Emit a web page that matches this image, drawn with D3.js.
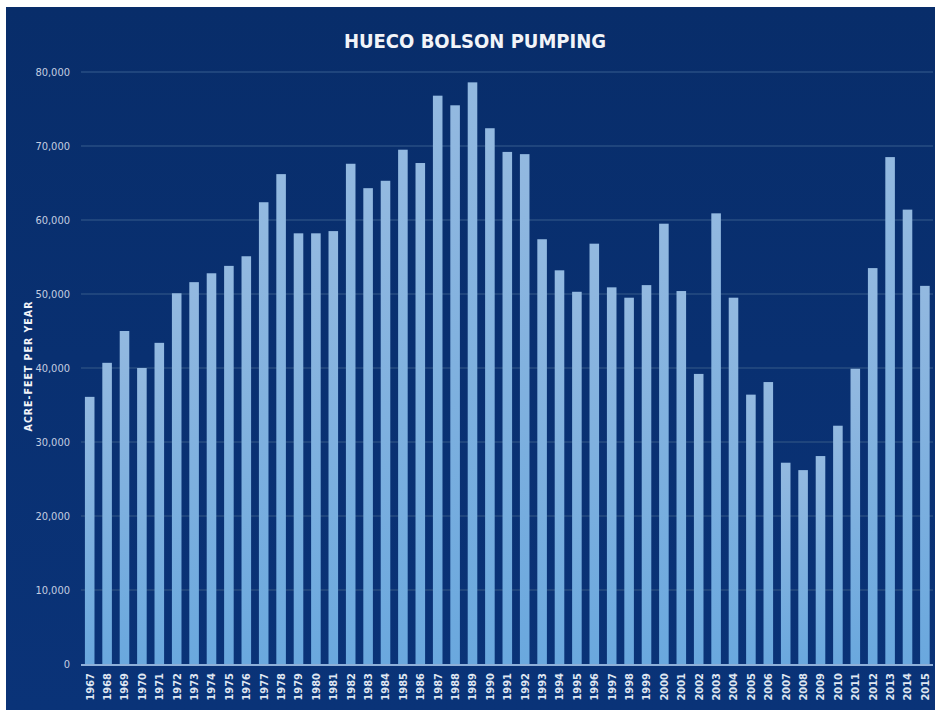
<!DOCTYPE html>
<html>
<head>
<meta charset="utf-8">
<script src="https://cdn.jsdelivr.net/npm/d3@7"></script>
<style>
	body { margin: 0; background: #fff; }
	svg text { font-family: "DejaVu Sans Condensed", "Liberation Sans Narrow", sans-serif; }
</style>
</head>
<body>
<div class="thegraph"></div>
<script>
var years = [1967, 1968, 1969, 1970, 1971, 1972, 1973, 1974, 1975, 1976,
             1977, 1978, 1979, 1980, 1981, 1982, 1983, 1984, 1985, 1986,
             1987, 1988, 1989, 1990, 1991, 1992, 1993, 1994, 1995, 1996,
             1997, 1998, 1999, 2000, 2001, 2002, 2003, 2004, 2005, 2006,
             2007, 2008, 2009, 2010, 2011, 2012, 2013, 2014, 2015];
var pumping = [36100, 40700, 45000, 40000, 43400, 50100, 51600, 52800, 53800, 55100,
               62400, 66200, 58200, 58200, 58500, 67600, 64300, 65300, 69500, 67700,
               76800, 75500, 78600, 72400, 69200, 68900, 57400, 53200, 50300, 56800,
               50900, 49500, 51200, 59500, 50400, 39200, 60900, 49500, 36400, 38100,
               27200, 26200, 28100, 32200, 39900, 53500, 68500, 61400, 51100];
var yTicks = [0, 10000, 20000, 30000, 40000, 50000, 60000, 70000, 80000];

(function() {
	var w = 935, h = 713;
	var svg = d3.select(".thegraph").append("svg")
		.attr("width", w)
		.attr("height", h);

	var defs = svg.append("defs");
	var grad = defs.append("linearGradient")
		.attr("id", "bargrad")
		.attr("x1", 0).attr("y1", 0).attr("x2", 0).attr("y2", 1);
	grad.append("stop").attr("offset", "0%").attr("stop-color", "#93b9e0");
	grad.append("stop").attr("offset", "100%").attr("stop-color", "#6aa8de");

	var bg = defs.append("linearGradient")
		.attr("id", "bggrad")
		.attr("x1", 0).attr("y1", 0).attr("x2", 0).attr("y2", 1);
	bg.append("stop").attr("offset", "0%").attr("stop-color", "#082d6a");
	bg.append("stop").attr("offset", "100%").attr("stop-color", "#0a3378");

	svg.append("rect")
		.attr("x", 6).attr("y", 7)
		.attr("width", w - 6).attr("height", h - 10)
		.attr("fill", "url(#bggrad)");

	var x = d3.scaleBand()
		.domain(years)
		.range([81, 933.6])
		.paddingInner(0.45)
		.paddingOuter(0.225);

	var y = d3.scaleLinear()
		.domain([0, 80000])
		.range([664, 72]);

	// gridlines
	svg.append("g")
		.selectAll("line")
		.data(yTicks.slice(1))
		.enter()
		.append("line")
		.attr("x1", 81)
		.attr("x2", 933)
		.attr("y1", function(d) { return y(d); })
		.attr("y2", function(d) { return y(d); })
		.attr("stroke", "#1f457d")
		.attr("stroke-width", 2);

	svg.append("g")
		.selectAll("rect")
		.data(pumping)
		.enter()
		.append("rect")
		.attr("x", function(d, i) { return x(years[i]); })
		.attr("y", function(d) { return y(d); })
		.attr("width", x.bandwidth())
		.attr("height", function(d) { return y(0) - y(d); })
		.attr("fill", "url(#bargrad)");

	// baseline
	svg.append("line")
		.attr("x1", 81).attr("x2", 933)
		.attr("y1", y(0) + 1).attr("y2", y(0) + 1)
		.attr("stroke", "#8fb0d8")
		.attr("stroke-width", 2);

	var yAxis = d3.axisLeft(y)
		.tickValues(yTicks)
		.tickSize(0)
		.tickPadding(0)
		.tickFormat(d3.format(","));
	var gy = svg.append("g")
		.attr("transform", "translate(70,0)")
		.call(yAxis);
	gy.select(".domain").remove();
	gy.selectAll("text")
		.attr("fill", "#c3cde0")
		.attr("font-size", "11px");

	var xAxis = d3.axisBottom(x)
		.tickSize(0)
		.tickPadding(0);
	var gx = svg.append("g")
		.attr("transform", "translate(0," + (y(0) + 9) + ")")
		.call(xAxis);
	gx.select(".domain").remove();
	gx.selectAll("text")
		.attr("fill", "#dfe6f2")
		.attr("font-size", "11px")
		.attr("font-weight", "bold")
		.attr("transform", "rotate(-90)")
		.attr("text-anchor", "end")
		.attr("x", 0)
		.attr("y", 0)
		.attr("dy", "0.35em");

	svg.append("text")
		.text("HUECO BOLSON PUMPING")
		.attr("x", 475)
		.attr("y", 48)
		.attr("text-anchor", "middle")
		.attr("font-size", "20px")
		.attr("font-weight", "bold")
		.attr("fill", "#f2f4f8");

	svg.append("text")
		.text("ACRE-FEET PER YEAR")
		.attr("transform", "translate(32,366) rotate(-90)")
		.attr("text-anchor", "middle")
		.attr("font-size", "10.5px")
		.attr("letter-spacing", "1px")
		.attr("font-weight", "bold")
		.attr("fill", "#f2f4f8");
})();
</script>
</body>
</html>
